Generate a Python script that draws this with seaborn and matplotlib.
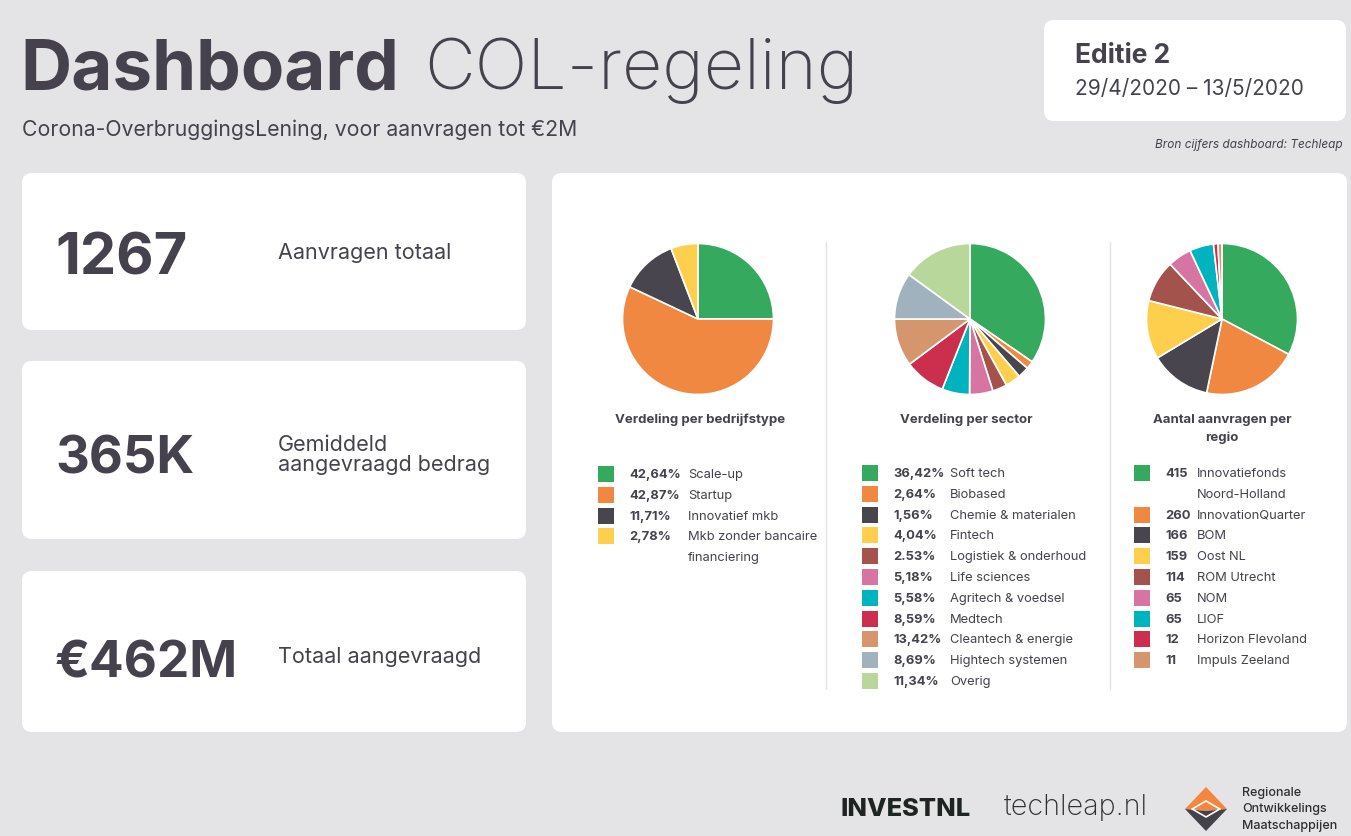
import matplotlib.pyplot as plt
import seaborn as sns
from matplotlib.patches import FancyBboxPatch, Rectangle, Polygon

W, H = 1351, 837

# ---- data -------------------------------------------------------------
kpi_values = ["1267", "365K", "€462M"]
kpi_labels = ["Aanvragen totaal", "Gemiddeld\naangevraagd bedrag", "Totaal aangevraagd"]

type_labels = ["Scale-up", "Startup", "Innovatief mkb", "Mkb zonder bancaire\nfinanciering"]
type_pct = ["42,64%", "42,87%", "11,71%", "2,78%"]
# slice sizes as they appear in the pie of the original
type_slices = [25.0, 57.0, 12.2, 5.8]

sector_labels = ["Soft tech", "Biobased", "Chemie & materialen", "Fintech",
                 "Logistiek & onderhoud", "Life sciences", "Agritech & voedsel",
                 "Medtech", "Cleantech & energie", "Hightech systemen", "Overig"]
sector_pct = ["36,42%", "2,64%", "1,56%", "4,04%", "2.53%", "5,18%", "5,58%",
              "8,59%", "13,42%", "8,69%", "11,34%"]
sector_slices = [34.6, 1.7, 2.4, 3.3, 3.1, 5.0, 5.9, 8.8, 10.2, 10.0, 15.0]

region_labels = ["Innovatiefonds\nNoord-Holland", "InnovationQuarter", "BOM", "Oost NL",
                 "ROM Utrecht", "NOM", "LIOF", "Horizon Flevoland", "Impuls Zeeland"]
region_counts = [415, 260, 166, 159, 114, 65, 65, 12, 11]

palette = sns.color_palette(["#35a95d", "#f08841", "#48454f", "#fdcf4c", "#a4524c",
                             "#d775a2", "#00b4bf", "#cb2f4d", "#d5956d", "#a0b2bd",
                             "#b8d89b"])

BG = "#e4e4e6"
INK = "#45424d"

sns.set_theme(style="white")
plt.rcParams["font.family"] = ["Inter", "DejaVu Sans"]

fig = plt.figure(figsize=(W / 100, H / 100), dpi=100)
fig.patch.set_facecolor(BG)
canvas = fig.add_axes([0, 0, 1, 1])
canvas.set_xlim(0, W)
canvas.set_ylim(H, 0)
canvas.axis("off")
canvas.set_facecolor(BG)


def card(x, y, w, h):
    canvas.add_patch(FancyBboxPatch((x, y), w, h, boxstyle="round,pad=0,rounding_size=10",
                                    fc="white", ec="none"))


def fit(txt, width):
    # shrink/grow a text so that it spans the given pixel width
    fig.canvas.draw()
    bb = txt.get_window_extent()
    txt.set_fontsize(txt.get_fontsize() * width / bb.width)


# ---- header -----------------------------------------------------------
t1 = canvas.text(20, 89, "Dashboard", fontsize=56, fontweight="bold", color=INK, va="baseline")
fit(t1, 380)
t2 = canvas.text(424, 89, "COL-regeling", fontsize=56, fontweight="light", color=INK,
                 va="baseline")
fit(t2, 434)
ts = canvas.text(22, 130, "Corona-OverbruggingsLening, voor aanvragen tot €2M", fontsize=14,
                 color=INK, va="center")
fit(ts, 556)

card(1044, 21, 302, 101)
canvas.text(1075, 56, "Editie 2", fontsize=19, fontweight="bold", color=INK, va="center")
canvas.text(1075, 89, "29/4/2020 – 13/5/2020", fontsize=15, color=INK, va="center")
canvas.text(1343, 145, "Bron cijfers dashboard: Techleap", fontsize=8.5, style="italic",
            color=INK, ha="right", va="center")

# ---- KPI cards --------------------------------------------------------
card_rows = [(174, 157), (362, 178), (572, 161)]
num_base = [274, 474, 678]
num_width = [132, 139, 183]
label_mid = [253, 455, 657]
for (y, h), val, lab, yb, wd, ym in zip(card_rows, kpi_values, kpi_labels,
                                         num_base, num_width, label_mid):
    card(22, y, 504, h)
    tn = canvas.text(55, yb, val, fontsize=40, fontweight="bold", color=INK, va="baseline")
    fit(tn, wd)
    canvas.text(278, ym, lab, fontsize=15.5, color=INK, va="center", linespacing=1.05)

# ---- pies card --------------------------------------------------------
card(552, 174, 795, 559)
for xd in (826, 1110):
    canvas.plot([xd, xd], [243, 690], color="#e2e2e2", lw=1)


def pie(cx, cy, r, values, colors):
    ax = fig.add_axes([(cx - r) / W, 1 - (cy + r) / H, 2 * r / W, 2 * r / H])
    ax.pie(values, colors=colors, startangle=90, counterclock=False,
           wedgeprops=dict(edgecolor="white", linewidth=1.2))
    ax.set_xlim(-1.02, 1.02)
    ax.set_ylim(-1.02, 1.02)
    ax.axis("off")


pie(698, 320, 77, type_slices, palette[:4])
pie(970, 320, 77, sector_slices, palette[:11])
pie(1222, 320, 77, region_counts, palette[:9])

title_kw = dict(fontsize=9.5, fontweight="bold", color=INK, ha="center", va="center")
canvas.text(700, 420, "Verdeling per bedrijfstype", **title_kw)
canvas.text(966, 420, "Verdeling per sector", **title_kw)
canvas.text(1222, 420, "Aantal aanvragen per", **title_kw)
canvas.text(1222, 438, "regio", **title_kw)


def legend(x_sq, x_val, x_lab, y0, values, labels, colors, dy=20.8):
    row = 0
    for v, lab, c in zip(values, labels, colors):
        y = y0 + row * dy
        canvas.add_patch(Rectangle((x_sq, y - 8), 16, 16, fc=c, ec="none"))
        canvas.text(x_val, y, str(v), fontsize=9.3, fontweight="bold", color=INK, va="center")
        for line in lab.split("\n"):
            canvas.text(x_lab, y0 + row * dy, line, fontsize=9.3, color=INK, va="center")
            row += 1


legend(598, 629, 688, 475, type_pct, type_labels, palette[:4])
legend(862, 893, 950, 474, sector_pct, sector_labels, palette[:11])
legend(1134, 1165, 1197, 474, region_counts, region_labels, palette[:9])

# ---- footer logos -----------------------------------------------------
t3 = canvas.text(840, 810, "INVESTNL", fontsize=14, fontweight="heavy", color="#1e2420",
                 va="center")
fit(t3, 130)
t4 = canvas.text(1004, 808, "techleap.nl", fontsize=20, fontweight="light", color="#2f2f2f",
                 va="center")
fit(t4, 143)

cx, cy = 1206, 810
canvas.add_patch(Polygon([(cx, cy - 22), (cx + 21, cy), (cx, cy + 2), (cx - 21, cy)],
                         closed=True, fc="#f4873f", ec="none"))
canvas.add_patch(Polygon([(cx - 21, cy), (cx, cy + 2), (cx + 21, cy), (cx, cy + 22)],
                         closed=True, fc="#45434a", ec="none"))
for off in (-8, 8):
    canvas.plot([cx - 21 + abs(off) * 0.9, cx, cx + 21 - abs(off) * 0.9],
                [cy, cy + off, cy], color="white", lw=1.2)
for i, line in enumerate(["Regionale", "Ontwikkelings", "Maatschappijen"]):
    canvas.text(1242, 793 + i * 16.5, line, fontsize=9, fontweight="medium",
                color="#2f2f2f", va="center")

fig.savefig("out.png", dpi=100, facecolor=BG)
